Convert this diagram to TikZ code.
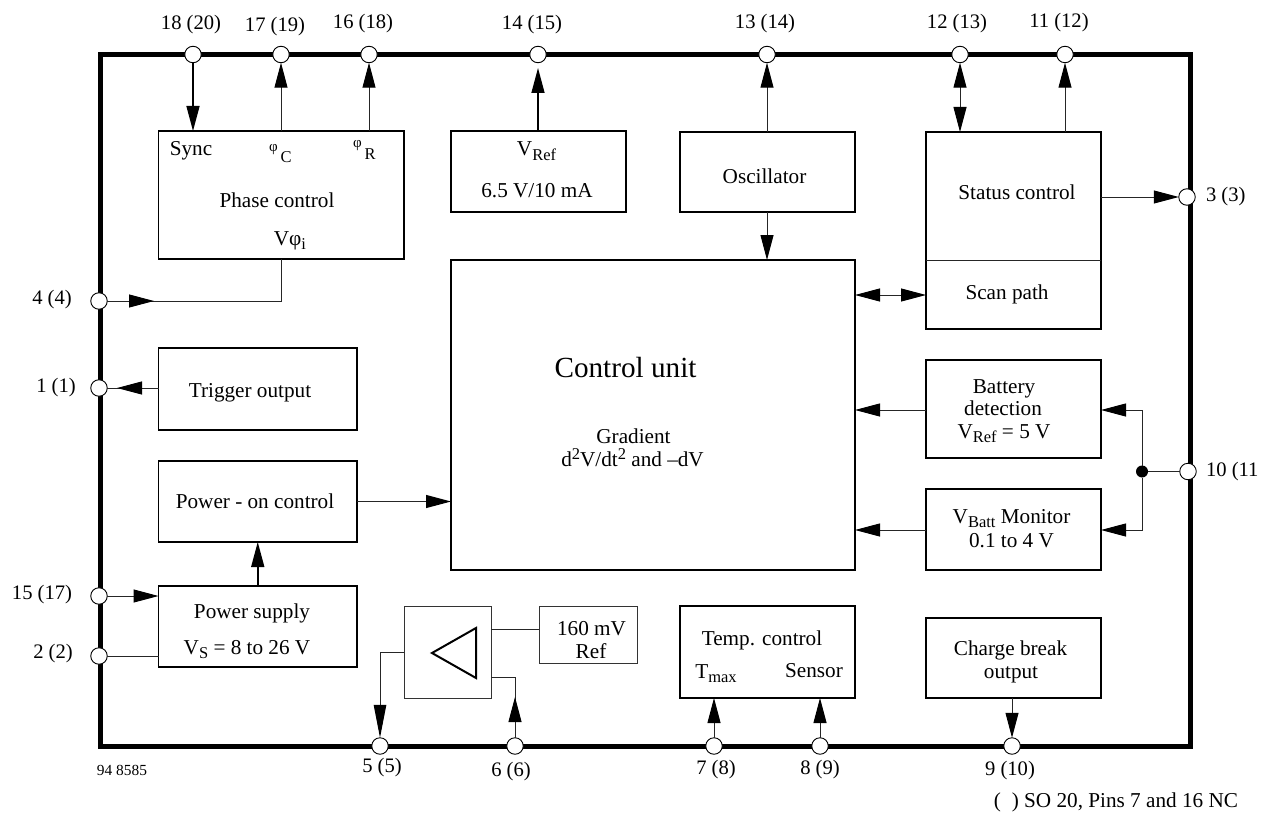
\documentclass[tikz,border=0pt]{standalone}
\usepackage{fontspec}
\setmainfont{Liberation Serif}
\usetikzlibrary{arrows.meta,calc}
\tikzset{
  blk/.style={draw=black,line width=1.7pt,fill=white,inner sep=0pt,outer sep=0pt},
  thinblk/.style={blk,line width=1pt,draw=black!80},
  pin/.style={circle,draw=black,line width=0.9pt,fill=white,minimum size=16.5pt,inner sep=0pt,outer sep=0pt},
  txt/.style={inner sep=0pt,outer sep=0pt,anchor=base,font=\fontsize{21.2}{24}\selectfont},
  pinlab/.style={txt,font=\fontsize{20.6}{24}\selectfont},
  wire/.style={line width=1pt,draw=black!85},
  wiretk/.style={line width=1.5pt,draw=black},
  ar/.style={-{Triangle[length=25pt,width=13pt,color=black]}},
  arlong/.style={-{Triangle[length=33pt,width=12.5pt,color=black]}},
  arar/.style={{Triangle[length=25pt,width=13pt,color=black]}-{Triangle[length=25pt,width=13pt,color=black]}},
}
\newcommand{\bx}[6][blk]{%
  \pgfmathsetmacro{\bxw}{#5-#3}\pgfmathsetmacro{\bxh}{#6-#4}%
  \pgfmathsetmacro{\bxx}{(#3+#5)/2}\pgfmathsetmacro{\bxy}{(#4+#6)/2}%
  \node[#1,minimum width=\bxw pt,minimum height=\bxh pt] (#2) at (\bxx,\bxy) {};}
\newcommand{\sbs}[1]{\raisebox{-4.5pt}{\fontsize{16.5}{18}\selectfont #1}}
\newcommand{\sps}[1]{\raisebox{7pt}{\fontsize{16.5}{18}\selectfont #1}}
\newcommand{\phis}[1]{\raisebox{#1}{\fontsize{15}{16}\selectfont φ}\hspace{3pt}}
\begin{document}
\begin{tikzpicture}[x=1pt,y=-1pt]
\useasboundingbox (0,0) rectangle (1265,813);
\fill[white] (0,0) rectangle (1265,813);
% frame
\bx[draw=black,line width=5pt,inner sep=0pt,outer sep=0pt]{frame}{100}{54.5}{1190}{746}
% blocks
\bx{phase}{158.5}{131}{404}{259}
\bx{vref}{451}{131}{626}{212}
\bx{osc}{680}{132}{855}{212}
\bx{status}{926}{132}{1101}{329}
\bx{ctrl}{451}{260}{855}{570}
\bx{trig}{158.5}{348}{357}{430}
\bx{pon}{158.5}{461}{357}{542}
\bx{psu}{158.5}{586}{357}{667}
\bx[thinblk]{amp}{404}{606}{491}{698}
\bx[thinblk]{mv}{539}{606}{637.5}{663}
\bx{temp}{680}{606}{855}{698}
\bx{chg}{926}{618}{1101}{698}
\bx{batt}{926}{360}{1101}{458}
\bx{mon}{926}{489}{1101}{570}
\draw[wire] (status.west |- 0,260) coordinate (splitl) -- (status.east |- 0,260) coordinate (splitr);
\draw[line width=2pt,line join=miter] (432,653) coordinate (tria) -- (476,628) -- (476,678) -- cycle;
% pins
\foreach \n/\x/\y in {p18/193/54.5,p17/281/54.5,p16/369/54.5,p14/538/54.5,p13/767/54.5,p12/960/54.5,p11/1065/54.5,
  p4/99/301,p1/99/388,p15/99/596,p2/99/656,p3/1187/197,p10/1188/471.5,
  p5/380/746,p6/515/746,p7/714/746,p8/820/746,p9/1012/746}
  \node[pin] (\n) at (\x,\y) {};
\node[circle,fill=black,minimum size=12pt,inner sep=0pt,outer sep=0pt] (jn) at (1142,471.5) {};
% connectors
\draw[wiretk,ar] (p18) -- (p18 |- phase.north);
\draw[wire,ar] (p17 |- phase.north) -- (p17);
\draw[wire,ar] (p16 |- phase.north) -- (p16);
\coordinate (t14) at (538,68);
\draw[wiretk,ar] (p14 |- vref.north) -- (t14);
\draw[wire,ar] (p13 |- osc.north) -- (p13);
\draw[wire,arar] (p12) -- (p12 |- status.north);
\draw[wire,ar] (p11 |- status.north) -- (p11);
\draw[wire,ar] (status.east |- p3) -- (p3);
\draw[wire] (p17 |- phase.south) -- (p17 |- p4) -- (p4);
\coordinate (a4) at (154,301);
\draw[wire,ar] (p4) -- (a4);
\coordinate (t1) at (117,388);
\draw[wire] (trig.west |- p1) -- (p1);
\draw[wire,ar] (trig.west |- p1) -- (t1);
\draw[wire,ar] (pon.east) -- (ctrl.west |- pon.east);
\draw[wiretk,ar] (pon.south |- psu.north) -- (pon.south);
\draw[wire,ar] (p15) -- (psu.west |- p15);
\draw[wire] (p2) -- (psu.west |- p2);
\draw[wire,ar] (osc.south -| 767,0) -- (ctrl.north -| 767,0);
\coordinate (scan) at (926,295);
\draw[wire,arar] (ctrl.east |- scan) -- (scan);
\coordinate (by) at (926,410);
\coordinate (my) at (926,530);
\draw[wire,ar] (batt.west |- by) -- (ctrl.east |- by);
\draw[wire,ar] (mon.west |- my) -- (ctrl.east |- my);
\draw[wire] (p10) -- (jn);
\draw[wire,ar] (jn) -- (jn |- by) -- (batt.east |- by);
\draw[wire,ar] (jn) -- (jn |- my) -- (mon.east |- my);
\coordinate (a5) at (amp.west |- 0,652);
\draw[wire,arlong] (a5) -- (p5 |- a5) -- (p5);
\coordinate (a6) at (amp.east |- 0,677);
\draw[wire] (a6) -- (p6 |- a6) -- (p6);
\coordinate (t6) at (515,697);
\draw[wire,ar] (p6) -- (t6);
\coordinate (a7) at (amp.east |- 0,629);
\draw[wire] (a7) -- (mv.west |- a7);
\draw[wire,ar] (p7) -- (p7 |- temp.south);
\draw[wire,ar] (p8) -- (p8 |- temp.south);
\draw[wire,ar] (p9 |- chg.south) -- (p9);
% pin labels
\foreach \n/\x/\y/\t in {l18/191/30/18 (20),l17/275/32/17 (19),l16/363/29/16 (18),l14/532/30/14 (15),
  l13/765/29/13 (14),l12/957/29/12 (13),l11/1059/28/11 (12),
  l4/52/304/4 (4),l1/56/392/1 (1),l15/42/599/15 (17),l2/53/658/2 (2),
  l5/382/772/5 (5),l6/511/776/6 (6),l7/716/774/7 (8),l8/820/774/8 (9),l9/1010/775/9 (10)}
  \node[pinlab] (\n) at (\x,\y) {\t};
\node[pinlab,anchor=base west] (l3) at (1206,201) {3 (3)};
\node[pinlab,anchor=base west] (l10) at (1206,476) {10 (11};
\node[txt,font=\fontsize{15.4}{17}\selectfont] (drw) at (122,775) {94 8585};
\node[txt,anchor=base east] (note) at (1238,807.5) {(\hspace{11pt}) SO 20, Pins 7 and 16 NC};
% block text
\node[txt] (tsync) at (191,156) {Sync};
\node[txt,anchor=base west] (tc) at (269,163) {\phis{11pt}\fontsize{16.5}{18}\selectfont C};
\node[txt,anchor=base west] (tr) at (353,160) {\phis{12pt}\fontsize{16.5}{18}\selectfont R};
\node[txt] (tpc) at (277,207) {Phase control};
\node[txt] (tvp) at (290,245) {Vφ\sbs{i}};
\node[txt] (tvr) at (536.5,156) {V\sbs{Ref}};
\node[txt] (tvv) at (537,197) {6.5 V/10 mA};
\node[txt] (tosc) at (764.5,183) {Oscillator};
\node[txt] (tst) at (1017,200) {Status control};
\node[txt] (tsc) at (1007,299) {Scan path};
\node[txt] (tb1) at (1004,393) {Battery};
\node[txt] (tb2) at (1003,415) {detection};
\node[txt] (tb3) at (1004,438) {V\sbs{Ref} = 5 V};
\node[txt] (tm1) at (1011.5,523) {V\sbs{Batt} Monitor};
\node[txt] (tm2) at (1011.5,547) {0.1 to 4 V};
\node[txt,font=\fontsize{29.2}{34}\selectfont] (tcu) at (625.5,377) {Control unit};
\node[txt] (tg1) at (633.5,443) {Gradient};
\node[txt] (tg2) at (632.5,466) {d\sps{2}V/dt\sps{2} and –dV};
\node[txt] (ttr) at (250,397) {Trigger output};
\node[txt] (tpo) at (255,508) {Power - on control};
\node[txt] (tps) at (252,618) {Power supply};
\node[txt] (tvs) at (247,654) {V\sbs{S} = 8 to 26 V};
\node[txt] (tm160) at (591.5,635) {160 mV};
\node[txt] (tref) at (591,658) {Ref};
\node[txt] (ttc) at (762,645) {Temp. control};
\node[txt] (ttm) at (716,678) {T\sbs{max}};
\node[txt] (tse) at (814,677) {Sensor};
\node[txt] (tcb) at (1010.5,655) {Charge break};
\node[txt] (tou) at (1011,678) {output};
\end{tikzpicture}
\end{document}
